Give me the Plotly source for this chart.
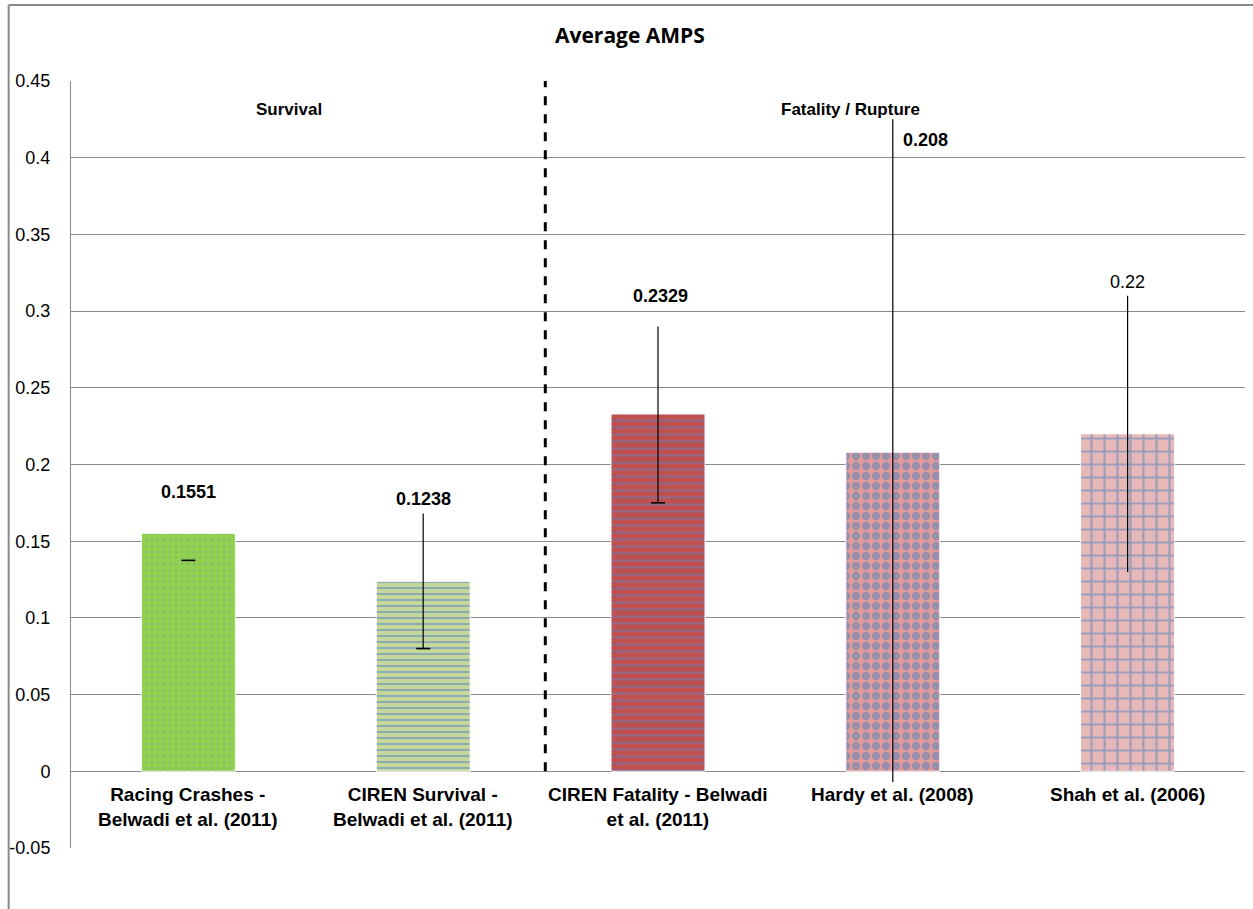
import plotly.graph_objects as go

# ---- data ----
categories = [
    "Racing Crashes -<br>Belwadi et al. (2011)",
    "CIREN Survival -<br>Belwadi et al. (2011)",
    "CIREN Fatality - Belwadi<br>et al. (2011)",
    "Hardy et al. (2008)",
    "Shah et al. (2006)",
]
amps_mean = [0.1551, 0.1238, 0.2329, 0.208, 0.22]
amps_label = ["0.1551", "0.1238", "0.2329", "0.208", "0.22"]
err_low = [0.1375, 0.08, 0.175, -0.007, 0.13]
err_high = [0.1375, 0.168, 0.29, 0.425, 0.31]
y_ticks = [-0.05, 0, 0.05, 0.1, 0.15, 0.2, 0.25, 0.3, 0.35, 0.4, 0.45]
y_tick_text = ["-0.05", "0", "0.05", "0.1", "0.15", "0.2", "0.25", "0.3", "0.35", "0.4", "0.45"]

# ---- styling ----
bar_styles = [
    dict(bg="#92D050", fg="#5B7FD6", shape=".", size=6, solidity=0.08),
    dict(bg="#C6D79C", fg="#4F81BD", shape="-", size=6, solidity=0.35),
    dict(bg="#C0504D", fg="#5F83CC", shape="-", size=7, solidity=0.3),
    dict(bg="#E39A9A", fg="#4F81BD", shape=".", size=10, solidity=0.55),
    dict(bg="#E6B9B8", fg="#4F81BD", shape="+", size=13, solidity=0.3),
]
cap_shown = [True, True, True, False, False]
# label placement (data-y) and horizontal nudges
label_y = [0.182, 0.1773, 0.3096, 0.4113, 0.3188]
label_dx = [0, 0, 0.01, 0.14, 0]
label_bold = [True, True, True, True, False]

GRID = "#8A8A8A"
FONT = "Liberation Sans, Arial, sans-serif"

x_idx = list(range(len(categories)))

fig = go.Figure()

for i in x_idx:
    s = bar_styles[i]
    fig.add_trace(go.Bar(
        x=[i], y=[amps_mean[i]], width=0.4,
        marker=dict(
            color=s["bg"],
            line=dict(color="rgba(255,255,255,0.9)", width=1),
            pattern=dict(shape=s["shape"], fgcolor=s["fg"], bgcolor=s["bg"],
                         size=s["size"], solidity=s["solidity"], fillmode="overlay"),
        ),
        showlegend=False, hoverinfo="skip",
    ))

# error lines
ex, ey = [], []
for i in x_idx:
    ex += [i, i, None]
    ey += [err_low[i], err_high[i], None]
fig.add_trace(go.Scatter(x=ex, y=ey, mode="lines",
                         line=dict(color="black", width=1.2),
                         showlegend=False, hoverinfo="skip"))
# lower caps
cx = [i for i in x_idx if cap_shown[i]]
cy = [err_low[i] for i in x_idx if cap_shown[i]]
fig.add_trace(go.Scatter(x=cx, y=cy, mode="markers",
                         marker=dict(symbol="line-ew", size=10,
                                     line=dict(color="black", width=1.6)),
                         showlegend=False, hoverinfo="skip"))

annotations = []
# value labels
for i in x_idx:
    txt = f"<b>{amps_label[i]}</b>" if label_bold[i] else amps_label[i]
    annotations.append(dict(x=i + label_dx[i], y=label_y[i], text=txt, showarrow=False,
                            font=dict(family=FONT, size=18, color="black"),
                            xanchor="center", yanchor="middle"))
# category labels sitting under the zero line
for i in x_idx:
    annotations.append(dict(x=i, y=0, text=f"<b>{categories[i]}</b>", showarrow=False,
                            font=dict(family=FONT, size=19, color="black"),
                            xanchor="center", yanchor="top", yshift=-11, align="center"))
# section labels
annotations.append(dict(x=0.43, y=0.4316, text="<b>Survival</b>", showarrow=False,
                        font=dict(family=FONT, size=17, color="black"),
                        yanchor="middle"))
annotations.append(dict(x=2.82, y=0.4316, text="<b>Fatality / Rupture</b>", showarrow=False,
                        font=dict(family=FONT, size=17, color="black"),
                        yanchor="middle"))
# title
annotations.append(dict(x=0.476, y=1.06, xref="paper", yref="paper",
                        text="<b>Average AMPS</b>", showarrow=False,
                        xanchor="center", yanchor="middle",
                        font=dict(family="Open Sans, Lato, sans-serif", size=21, color="black")))

shapes = [
    # separator between survival and fatality groups
    dict(type="line", x0=1.52, x1=1.52, y0=0, y1=0.45, xref="x", yref="y",
         line=dict(color="black", width=3, dash="dash")),
    # outer chart frame (left and top)
    dict(type="line", xref="paper", yref="paper", x0=-0.0531, x1=-0.0531, y0=-0.09, y1=1.0991,
         line=dict(color=GRID, width=2)),
    dict(type="line", xref="paper", yref="paper", x0=-0.0531, x1=1.01, y0=1.0991, y1=1.0991,
         line=dict(color=GRID, width=2)),
]

fig.update_layout(
    width=1253, height=909,
    margin=dict(l=71, r=8, t=81, b=61),
    paper_bgcolor="white", plot_bgcolor="white",
    barmode="overlay",
    annotations=annotations,
    shapes=shapes,
    xaxis=dict(range=[-0.5, 4.5], showticklabels=False, showgrid=False,
               zeroline=False, showline=False, ticks=""),
    yaxis=dict(range=[-0.05, 0.45], tickvals=y_ticks, ticktext=y_tick_text,
               showgrid=True, gridcolor=GRID, gridwidth=1,
               zeroline=True, zerolinecolor=GRID, zerolinewidth=1,
               showline=True, linecolor=GRID, linewidth=1,
               ticks="", ticklabelstandoff=16,
               tickfont=dict(family=FONT, size=18, color="black")),
    font=dict(family=FONT),
)

fig.write_html("out.html")
